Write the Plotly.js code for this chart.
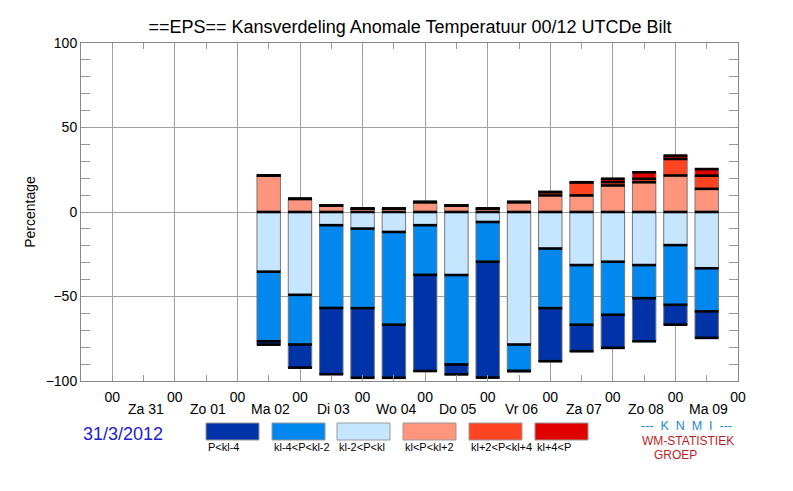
<!DOCTYPE html>
<html>
<head>
<meta charset="utf-8">
<script src="https://cdn.plot.ly/plotly-3.0.1.min.js"></script>
<style>html,body{margin:0;padding:0;background:#fff;}#chart{width:793px;height:491px;}</style>
</head>
<body>
<div id="chart"></div>
<script>
// Forecast times (hours after Za 31 00 UTC)
const hours = [60, 72, 84, 96, 108, 120, 132, 144, 156, 168, 180, 192, 204, 216, 228];

// Probabilities (%) per class
const pKlKl2   = [21.6, 7.8, 3.9, 2.0, 2.0, 5.9, 3.9, 2.0, 5.9, 9.8, 9.8, 15.7, 17.6, 21.6, 13.7]; // kl<P<kl+2
const pKl2Kl4  = [0, 0, 0, 0, 0, 0, 0, 0, 0, 2.0, 7.8, 2.0, 2.0, 9.8, 7.8];                       // kl+2<P<kl+4
const pKl4     = [0, 0, 0, 0, 0, 0, 0, 0, 0, 0, 0, 2.0, 3.9, 2.0, 3.9];                           // kl+4<P
const pKlm2Kl  = [-35.3, -49.0, -7.8, -9.8, -11.8, -7.8, -37.3, -5.9, -78.4, -21.6, -31.4, -29.4, -31.4, -19.6, -33.3]; // kl-2<P<kl
const pKlm4m2  = [-41.2, -29.4, -49.0, -47.1, -54.9, -29.4, -52.9, -23.5, -15.7, -35.3, -35.3, -31.4, -19.6, -35.3, -25.5]; // kl-4<P<kl-2
const pKlm4    = [-2.0, -13.7, -39.2, -41.2, -31.4, -56.9, -5.9, -68.6, 0, -31.4, -15.7, -19.6, -25.5, -11.8, -15.7]; // P<kl-4

// Tick labels
const hourTicks = [0, 24, 48, 72, 96, 120, 144, 168, 192, 216, 240];
const hourLabels = ['00','00','00','00','00','00','00','00','00','00','00'];
const dayPos = [12, 36, 60, 84, 108, 132, 156, 180, 204, 228];
const dayLabels = ['Za 31','Zo 01','Ma 02','Di 03','Wo 04','Do 05','Vr 06','Za 07','Zo 08','Ma 09'];

const classNames = ['P<kl-4','kl-4<P<kl-2','kl-2<P<kl','kl<P<kl+2','kl+2<P<kl+4','kl+4<P'];
const classColors = ['#0033a8','#0088ee','#c6e6ff','#ff957d','#ff4422','#e00000'];

const W = 793, H = 491, M = {l: 81, r: 55, t: 43, b: 110};
const PW = W - M.l - M.r, PH = H - M.t - M.b;
const px = x => (x - M.l) / PW;
const py = y => (H - M.b - y) / PH;

const FONT = 'Liberation Sans, Arial, Helvetica, sans-serif';

function barTrace(vals, ci) {
  return {
    type: 'bar', x: hours, y: vals, width: 9,
    marker: {color: classColors[ci], line: {color: '#777', width: 1}},
    name: classNames[ci], showlegend: false, hoverinfo: 'skip'
  };
}

const traces = [
  barTrace(pKlm2Kl, 2), barTrace(pKlm4m2, 1), barTrace(pKlm4, 0),
  barTrace(pKlKl2, 3), barTrace(pKl2Kl4, 4), barTrace(pKl4, 5)
];

// Black boundary lines at each class edge
const bx = [], by = [];
hours.forEach((h, i) => {
  const p1 = pKlKl2[i], p2 = p1 + pKl2Kl4[i], p3 = p2 + pKl4[i];
  const n1 = pKlm2Kl[i], n2 = n1 + pKlm4m2[i], n3 = n2 + pKlm4[i];
  [0, p1, p2, p3, n1, n2, n3].forEach(v => { bx.push(h); by.push(v); });
});
traces.push({
  type: 'scatter', mode: 'markers', x: bx, y: by, showlegend: false, hoverinfo: 'skip',
  marker: {symbol: 'line-ew', size: 17, color: '#000', line: {color: '#000', width: 2.6}}
});

const annotations = [];
dayPos.forEach((d, i) => annotations.push({
  x: d, xref: 'x', y: 0, yref: 'paper', yshift: -28, xshift: 2,
  text: dayLabels[i], showarrow: false, xanchor: 'center', yanchor: 'middle',
  font: {family: FONT, size: 14, color: '#000'}
}));

const shapes = [];
const boxL = [206, 272, 337, 403, 469, 535];
boxL.forEach((l, i) => {
  shapes.push({type: 'rect', xref: 'paper', yref: 'paper',
    x0: px(l), x1: px(l + 53), y0: py(440), y1: py(423),
    fillcolor: classColors[i], line: {color: '#999', width: 1}});
  annotations.push({xref: 'paper', yref: 'paper', x: px(l), y: py(447),
    text: classNames[i].replace(/</g, '&lt;'), showarrow: false, xanchor: 'left', yanchor: 'middle',
    font: {family: FONT, size: 11, color: '#000'}});
});

const NB = '\u00a0';
annotations.push({xref: 'paper', yref: 'paper', x: px(81), y: py(434), text: '31/3/2012',
  showarrow: false, xanchor: 'left', yanchor: 'middle', font: {family: FONT, size: 18, color: '#2020cc'}});
annotations.push({xref: 'paper', yref: 'paper', x: px(686), y: py(426),
  text: '---' + NB + ' K' + NB + ' N' + NB + ' M' + NB + ' I' + NB + ' ---',
  showarrow: false, xanchor: 'center', yanchor: 'middle', font: {family: FONT, size: 12.5, color: '#2288cc'}});
annotations.push({xref: 'paper', yref: 'paper', x: px(688), y: py(441), text: 'WM-STATISTIEK',
  showarrow: false, xanchor: 'center', yanchor: 'middle', font: {family: FONT, size: 12, color: '#bb1e1e'}});
annotations.push({xref: 'paper', yref: 'paper', x: px(675), y: py(455), text: 'GROEP',
  showarrow: false, xanchor: 'center', yanchor: 'middle', font: {family: FONT, size: 12, color: '#bb1e1e'}});

const layout = {
  width: W, height: H, margin: M,
  paper_bgcolor: '#fff', plot_bgcolor: '#fff',
  barmode: 'relative', bargap: 0,
  font: {family: FONT, size: 14, color: '#000'},
  title: {text: '==EPS== Kansverdeling Anomale Temperatuur 00/12 UTCDe Bilt',
    x: px(410), xref: 'paper', xanchor: 'center', y: 1 - 27 / H, yref: 'container', yanchor: 'middle',
    font: {family: FONT, size: 18, color: '#000'}},
  xaxis: {
    range: [-12, 240], tickmode: 'array', tickvals: hourTicks, ticktext: hourLabels,
    showgrid: true, gridcolor: '#a0a0a0', gridwidth: 1, zeroline: false,
    showline: true, linecolor: '#888', linewidth: 1, mirror: 'ticks',
    ticks: 'inside', ticklen: 5, tickcolor: '#999', ticklabelstandoff: 3,
    minor: {dtick: 12, tick0: 0, ticks: 'inside', ticklen: 6, tickcolor: '#999', showgrid: false},
    tickfont: {family: FONT, size: 14, color: '#000'}, fixedrange: true
  },
  yaxis: {
    range: [-100, 100], tickmode: 'array', tickvals: [-100, -50, 0, 50, 100],
    showgrid: true, gridcolor: '#a0a0a0', gridwidth: 1, zeroline: false,
    showline: true, linecolor: '#888', linewidth: 1, mirror: 'ticks',
    ticks: 'inside', ticklen: 9, tickcolor: '#999',
    minor: {dtick: 10, tick0: 0, ticks: 'inside', ticklen: 9, tickcolor: '#999', showgrid: false},
    tickfont: {family: FONT, size: 14, color: '#000'},
    title: {text: 'Percentage', standoff: 6, font: {family: FONT, size: 14, color: '#000'}},
    fixedrange: true
  },
  shapes: shapes,
  annotations: annotations
};

Plotly.newPlot('chart', traces, layout, {displayModeBar: false, staticPlot: true});
</script>
</body>
</html>
